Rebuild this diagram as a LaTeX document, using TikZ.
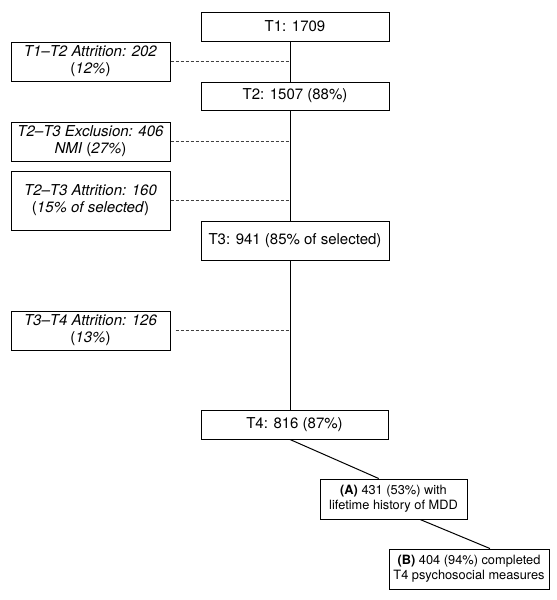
\documentclass[tikz,border=0pt]{standalone}
\usepackage{fontspec}
\setmainfont{TeX Gyre Heros}
\usetikzlibrary{calc}
\begin{document}
\begin{tikzpicture}[x=1pt,y=-1pt,
  box/.style={draw, line width=1pt, fill=white, inner sep=0pt, align=center,
              font=\fontsize{15}{17}\selectfont},
  mainbox/.style={box, minimum width=188pt},
  sidebox/.style={box, minimum width=159pt, minimum height=39pt},
  smallbox/.style={box, minimum height=40pt, font=\fontsize{12.8}{15}\selectfont},
  conn/.style={line width=1pt},
  dashconn/.style={line width=0.7pt, black!75, dash pattern=on 3pt off 2pt}
]
\useasboundingbox (0,0) rectangle (557,600);
\coordinate (v) at (290,0);

% main column
\node[mainbox, minimum height=29pt] (T1) at (295,26.5) {T1: 1709};
\node[mainbox, minimum height=28pt] (T2) at (295,96) {T2: 1507 (88\%)};
\node[mainbox, minimum height=39pt] (T3) at (295,240.5) {T3: 941 (85\% of selected)};
\node[mainbox, minimum width=187pt, minimum height=29pt] (T4) at (294.5,424.5) {T4: 816 (87\%)};

% side boxes
\node[sidebox] (L1) at (90.5,61.5) {\textit{T1–T2 Attrition: 202}\\(\textit{12\%})};
\node[sidebox] (L2) at (90.5,141.5) {\textit{T2–T3 Exclusion: 406}\\\textit{NMI} (\textit{27\%})};
\node[sidebox, minimum height=59pt] (L3) at (90.5,200.5) {\textit{T2–T3 Attrition: 160}\\(\textit{15\% of selected})};
\node[sidebox] (L4) at (90.5,330.5) {\textit{T3–T4 Attrition: 126}\\(\textit{13\%})};

% bottom boxes
\node[smallbox, minimum width=147pt] (A) at (393.5,499) {\textbf{(A)} 431 (53\%) with\\lifetime history of MDD};
\node[smallbox, minimum width=160pt] (B) at (469,569) {\textbf{(B)} 404 (94\%) completed\\T4 psychosocial measures};

% vertical connectors
\draw[conn] (T1.south -| v) -- (T2.north -| v);
\draw[conn] (T2.south -| v) -- (T3.north -| v);
\draw[conn] (T3.south -| v) -- (T4.north -| v);

% dashed connectors
\draw[dashconn] (L1.east) -- (L1.east -| v);
\draw[dashconn] (L2.east) -- (L2.east -| v);
\draw[dashconn] (L3.east) -- (L3.east -| v);
\draw[dashconn, shorten <=5pt] (L4.east) -- (L4.east -| v);

% diagonal connectors
\draw[conn] (T4.south -| v) -- ($(A.north west)!0.4!(A.north east)$);
\draw[conn] ($(A.south west)!0.68!(A.south east)$) -- ($(B.north west)!0.63!(B.north east)$);
\end{tikzpicture}
\end{document}
